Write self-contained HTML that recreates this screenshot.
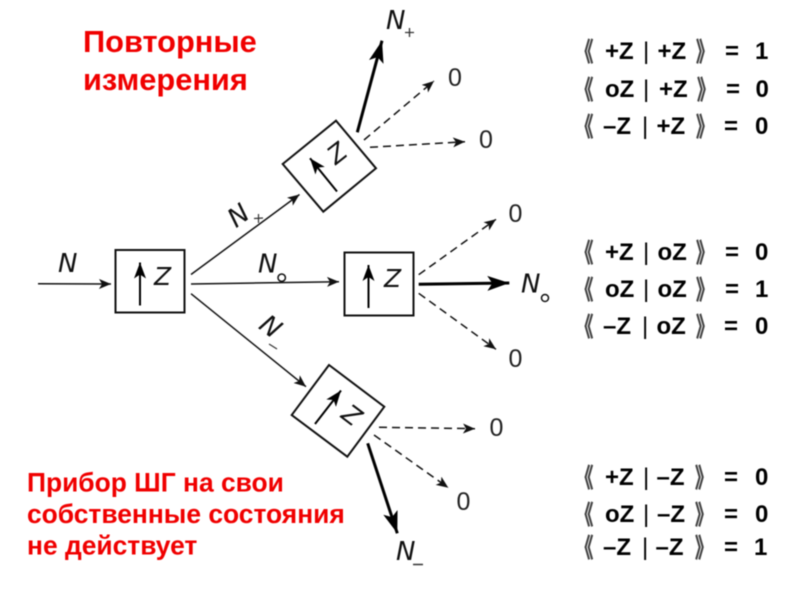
<!DOCTYPE html>
<html><head><meta charset="utf-8"><style>
html,body{margin:0;padding:0;background:#fff;width:800px;height:600px;overflow:hidden}
svg{display:block;filter:blur(.4px)}
text{font-family:"Liberation Sans","Noto Sans CJK JP",sans-serif}
.r{fill:#f00000;font-weight:bold}
.e{font-size:24px;font-weight:bold;fill:#000}
.v{font-size:24px;fill:#000}
.b{font-size:21px;fill:#444;font-weight:bold;stroke:#444;stroke-width:.5}
.n{font-size:26px;font-style:italic;font-family:"DejaVu Sans","Liberation Sans",sans-serif;fill:#111}
.z{font-size:25px;font-style:italic;font-family:"DejaVu Sans","Liberation Sans",sans-serif;fill:#111}
.o{font-size:25px;fill:#222}
</style></head><body>
<svg width="800" height="600" viewBox="0 0 800 600" xmlns="http://www.w3.org/2000/svg">
<defs>
<marker id="a" markerUnits="userSpaceOnUse" markerWidth="14" markerHeight="12" refX="12" refY="5" orient="auto"><path d="M0 0L12 5L0 10L3 5Z" fill="#111"/></marker>
<marker id="t" markerUnits="userSpaceOnUse" markerWidth="24" markerHeight="18" refX="22" refY="7.5" orient="auto"><path d="M0 0L22 7.5L0 15L5 7.5Z" fill="#000"/></marker>
<marker id="u" markerUnits="userSpaceOnUse" markerWidth="18" markerHeight="14" refX="16" refY="6" orient="auto"><path d="M0 0L16 6L0 12L4 6Z" fill="#000"/></marker>
</defs>
<g fill="#fff" stroke="#111" stroke-width="2">
<rect x="115.5" y="250" width="69" height="62.5"/>
<path d="M336 120.7L282.7 164L323.3 211.7L376 168.3Z"/>
<rect x="344.5" y="252.5" width="69" height="63"/>
<path d="M329 365L291.7 415L347.3 456.7L384.3 406.7Z"/>
</g>
<g stroke="#111" stroke-width="1.5" fill="none" marker-end="url(#a)">
<line x1="38" y1="283.7" x2="111" y2="284"/>
<line x1="191" y1="274.5" x2="299.5" y2="194.5"/>
<line x1="191" y1="284" x2="339" y2="281.7"/>
<line x1="191" y1="293.7" x2="306" y2="386.7"/>
</g>
<g stroke="#111" stroke-width="1.5" fill="none" stroke-dasharray="8 5" marker-end="url(#a)">
<line x1="364" y1="140" x2="434" y2="81"/>
<line x1="370" y1="147.3" x2="465" y2="141.7"/>
<line x1="418.7" y1="274.7" x2="496" y2="219.3"/>
<line x1="418.7" y1="293.3" x2="496" y2="349.3"/>
<line x1="379" y1="427.3" x2="475" y2="428.7"/>
<line x1="374" y1="435" x2="448.3" y2="487.7"/>
</g>
<g stroke="#000" stroke-width="3" fill="none" marker-end="url(#t)">
<line x1="357.3" y1="132.3" x2="382" y2="40.7"/>
<line x1="418.7" y1="284.3" x2="509.3" y2="283"/>
<line x1="367.7" y1="443.3" x2="397.3" y2="533.3"/>
</g>
<g stroke="#000" stroke-width="2" fill="none" marker-end="url(#u)">
<line x1="140" y1="305.5" x2="140" y2="262.5"/>
<line x1="337" y1="191.5" x2="310" y2="158.3"/>
<line x1="368.5" y1="308" x2="368.5" y2="265"/>
<line x1="315" y1="424" x2="341" y2="390.5"/>
</g>
<text class="z" x="154" y="285">Z</text>
<text class="z" x="384" y="287">Z</text>
<text class="z" text-anchor="middle" transform="translate(337,153) rotate(-38)" y="9">Z</text>
<text class="z" text-anchor="middle" transform="translate(352,415) rotate(37)" y="9">Z</text>

<text class="n" x="58" y="272">N</text>
<text class="n" x="258" y="272.5">N</text>
<circle cx="281.7" cy="277.7" r="3.7" fill="#fff" stroke="#111" stroke-width="1.5"/>
<text class="n" text-anchor="middle" transform="translate(238,215) rotate(-37)" y="9.5">N</text>
<path d="M254 218.5L263 218M258.5 214V223" stroke="#333" stroke-width="1.2" fill="none"/>
<text class="n" text-anchor="middle" transform="translate(271,326) rotate(37)" y="9.5">N</text>
<path d="M269 344L277 349" stroke="#333" stroke-width="1.2" fill="none"/>
<text class="n" x="386" y="29">N</text>
<path d="M405 32.5H414M409.5 28V37" stroke="#333" stroke-width="1.3" fill="none"/>
<text class="n" x="521" y="292.5">N</text>
<circle cx="545" cy="298" r="3.5" fill="#fff" stroke="#111" stroke-width="1.5"/>
<text class="n" x="396" y="560">N</text>
<path d="M413 564.5H423" stroke="#333" stroke-width="1.5" fill="none"/>

<text class="o" x="448" y="86">0</text>
<text class="o" x="479" y="148">0</text>
<text class="o" x="508.5" y="222">0</text>
<text class="o" x="508.5" y="367">0</text>
<text class="o" x="489.5" y="436">0</text>
<text class="o" x="456.5" y="510">0</text>

<text class="r" font-size="30.8" x="83" y="52">Повторные</text>
<text class="r" font-size="30.8" x="83" y="90">измерения</text>
<text class="r" font-size="26.4" x="27" y="491.5">Прибор ШГ на свои</text>
<text class="r" font-size="26.4" x="27" y="523">собственные состояния</text>
<text class="r" font-size="26.4" x="27" y="554.5">не действует</text>

<g>
<text class="b" transform="translate(575.5,61) scale(.85,1.25)">《</text><text class="e" x="605" y="59">+Z</text><text class="v" x="643" y="59">|</text><text class="e" x="657.5" y="59">+Z</text><text class="b" transform="translate(696,61) scale(.85,1.25)">》</text><text class="e" x="725" y="59">=</text><text class="e" x="755" y="59">1</text>
<text class="b" transform="translate(575.5,99) scale(.85,1.25)">《</text><text class="e" x="605" y="97">oZ</text><text class="v" x="643" y="97">|</text><text class="e" x="659" y="97">+Z</text><text class="b" transform="translate(697,99) scale(.85,1.25)">》</text><text class="e" x="726" y="97">=</text><text class="e" x="755.5" y="97">0</text>
<text class="b" transform="translate(575.5,136) scale(.85,1.25)">《</text><text class="e" x="603" y="134">–Z</text><text class="v" x="642" y="134">|</text><text class="e" x="656.5" y="134">+Z</text><text class="b" transform="translate(696,136) scale(.85,1.25)">》</text><text class="e" x="724" y="134">=</text><text class="e" x="755" y="134">0</text>

<text class="b" transform="translate(575.5,262) scale(.85,1.25)">《</text><text class="e" x="605" y="260">+Z</text><text class="v" x="643" y="260">|</text><text class="e" x="657.5" y="260">oZ</text><text class="b" transform="translate(696,262) scale(.85,1.25)">》</text><text class="e" x="725" y="260">=</text><text class="e" x="755" y="260">0</text>
<text class="b" transform="translate(575.5,299) scale(.85,1.25)">《</text><text class="e" x="605" y="297">oZ</text><text class="v" x="643" y="297">|</text><text class="e" x="657.5" y="297">oZ</text><text class="b" transform="translate(696,299) scale(.85,1.25)">》</text><text class="e" x="725" y="297">=</text><text class="e" x="755" y="297">1</text>
<text class="b" transform="translate(575.5,336) scale(.85,1.25)">《</text><text class="e" x="603" y="334">–Z</text><text class="v" x="642" y="334">|</text><text class="e" x="656.5" y="334">oZ</text><text class="b" transform="translate(696,336) scale(.85,1.25)">》</text><text class="e" x="724" y="334">=</text><text class="e" x="755" y="334">0</text>

<text class="b" transform="translate(575.5,487) scale(.85,1.25)">《</text><text class="e" x="605" y="485">+Z</text><text class="v" x="643" y="485">|</text><text class="e" x="656.5" y="485">–Z</text><text class="b" transform="translate(695,487) scale(.85,1.25)">》</text><text class="e" x="724" y="485">=</text><text class="e" x="755" y="485">0</text>
<text class="b" transform="translate(575.5,524) scale(.85,1.25)">《</text><text class="e" x="605" y="522">oZ</text><text class="v" x="643" y="522">|</text><text class="e" x="657" y="522">–Z</text><text class="b" transform="translate(695,524) scale(.85,1.25)">》</text><text class="e" x="724" y="522">=</text><text class="e" x="755" y="522">0</text>
<text class="b" transform="translate(575.5,557) scale(.85,1.25)">《</text><text class="e" x="603" y="555">–Z</text><text class="v" x="642" y="555">|</text><text class="e" x="655.5" y="555">–Z</text><text class="b" transform="translate(695,557) scale(.85,1.25)">》</text><text class="e" x="724" y="555">=</text><text class="e" x="754" y="555">1</text>
</g>
</svg>
</body></html>
